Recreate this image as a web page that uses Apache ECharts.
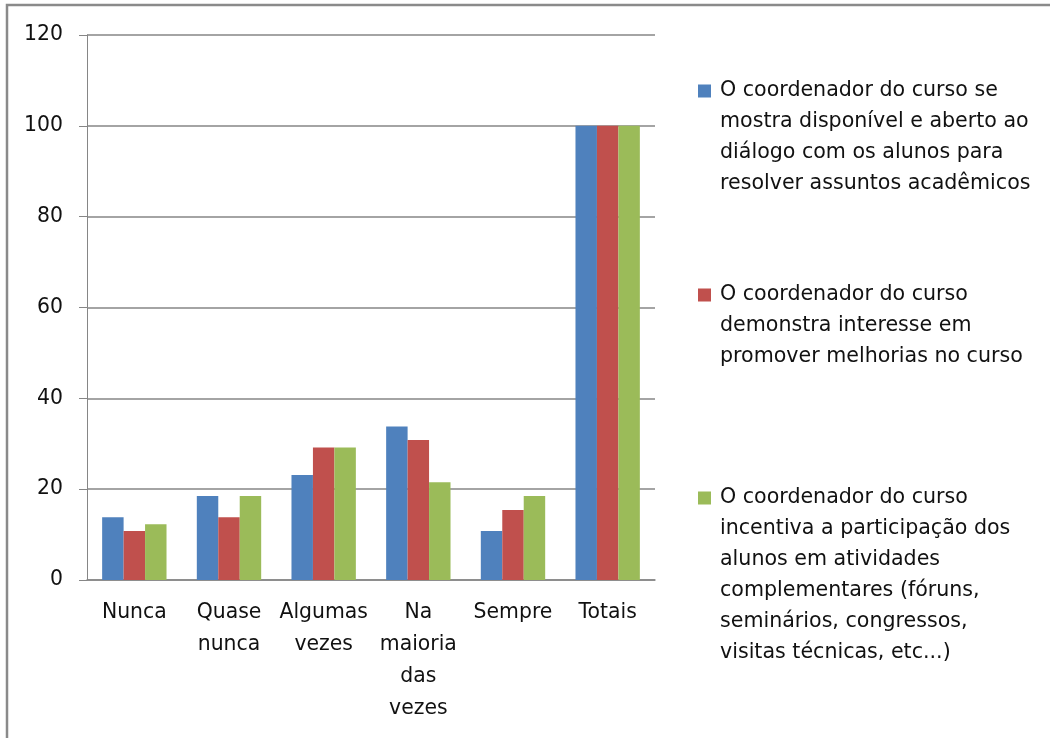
<!DOCTYPE html>
<html>
<head>
<meta charset="utf-8">
<script src="https://cdn.jsdelivr.net/npm/echarts@6/dist/echarts.min.js"></script>
<style>
	html, body { margin: 0; padding: 0; background: #fff; }
	#chartBox { width: 1050px; height: 738px; }
</style>
</head>
<body>
<div id="chartBox"></div>
<script>
// categorias do eixo x
var categorias = ['Nunca', 'Quase\nnunca', 'Algumas\nvezes', 'Na\nmaioria\ndas\nvezes', 'Sempre', 'Totais'];

// nomes das séries (quebras de linha como na legenda original)
var nomeDisponivel = 'O coordenador do curso se\nmostra disponível e aberto ao\ndiálogo com os alunos para\nresolver assuntos acadêmicos';
var nomeInteresse = 'O coordenador do curso\ndemonstra interesse em\npromover melhorias no curso';
var nomeIncentiva = 'O coordenador do curso\nincentiva a participação dos\nalunos em atividades\ncomplementares (fóruns,\nseminários, congressos,\nvisitas técnicas, etc...)';

// valores (%)
var valDisponivel = [13.8, 18.5, 23.1, 33.8, 10.8, 100];
var valInteresse = [10.8, 13.8, 29.2, 30.8, 15.4, 100];
var valIncentiva = [12.3, 18.5, 29.2, 21.5, 18.5, 100];

// eixo y
var yMin = 0, yMax = 120, yPasso = 20;

var fonte = 'DejaVu Sans';
var cinza = '#868686';
var linha = 31;
var lado = 13;

// ícone da legenda: quadrado alinhado com a primeira linha do texto
function iconeLegenda(nLinhas){
	var h = nLinhas * linha;
	var y0 = (linha - lado) / 2;
	return 'path://M0,0h0.01v0.01h-0.01z M0,' + y0 + 'h' + lado + 'v' + lado + 'h-' + lado + 'z M0,' + (h - 0.01) + 'h0.01v0.01h-0.01z';
}

function legenda(nome, nLinhas, topo){
	return {
		data: [nome],
		left: 698,
		top: topo,
		padding: 0,
		orient: 'vertical',
		selectedMode: false,
		itemWidth: lado,
		itemHeight: nLinhas * linha,
		icon: iconeLegenda(nLinhas),
		textStyle: {
			fontFamily: fonte,
			fontSize: 20.6,
			color: '#111',
			lineHeight: linha,
			padding: [0, 0, 0, 4]
		}
	};
}

var myChart = echarts.init(document.getElementById('chartBox'));
myChart.setOption({
	animation: false,
	backgroundColor: '#fff',
	graphic: [{
		type: 'rect',
		shape: { x: 7, y: 5, width: 1200, height: 1000 },
		style: { fill: 'none', stroke: '#8a8a8a', lineWidth: 2.5 },
		silent: true
	}],
	legend: [
		legenda(nomeDisponivel, 4, 75.5),
		legenda(nomeInteresse, 3, 279.5),
		legenda(nomeIncentiva, 6, 482.5)
	],
	grid: {
		left: 87,
		right: 395,
		top: 35,
		bottom: 158
	},
	xAxis: {
		type: 'category',
		data: categorias,
		axisLine: { lineStyle: { color: cinza, width: 1.5 } },
		axisTick: { length: 8, lineStyle: { color: cinza, width: 1.5 } },
		axisLabel: {
			margin: 17,
			fontFamily: fonte,
			fontSize: 20.4,
			color: '#111',
			lineHeight: 32,
			interval: 0
		}
	},
	yAxis: {
		type: 'value',
		min: yMin,
		max: yMax,
		interval: yPasso,
		axisLine: { show: true, lineStyle: { color: cinza, width: 1 } },
		axisTick: { show: true, length: 8, lineStyle: { color: cinza } },
		axisLabel: {
			margin: 24,
			fontFamily: fonte,
			fontSize: 20.4,
			color: '#111'
		},
		splitLine: { lineStyle: { color: cinza, width: 1.5 } }
	},
	series: [
		{
			name: nomeDisponivel,
			type: 'bar',
			data: valDisponivel,
			barGap: '0%',
			barCategoryGap: '32%',
			itemStyle: { color: '#4F81BD' }
		},
		{
			name: nomeInteresse,
			type: 'bar',
			data: valInteresse,
			barGap: '0%',
			barCategoryGap: '32%',
			itemStyle: { color: '#C0504D' }
		},
		{
			name: nomeIncentiva,
			type: 'bar',
			data: valIncentiva,
			barGap: '0%',
			barCategoryGap: '32%',
			itemStyle: { color: '#9BBB59' }
		}
	]
});
</script>
</body>
</html>
